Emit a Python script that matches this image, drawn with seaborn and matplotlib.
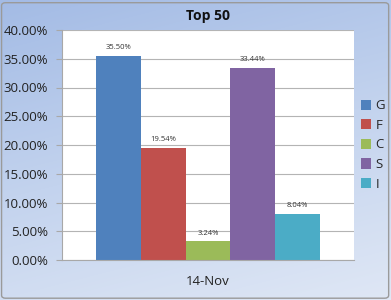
import numpy as np
import pandas as pd
import matplotlib
matplotlib.use("Agg")
import matplotlib.pyplot as plt
import seaborn as sns
from matplotlib.colors import LinearSegmentedColormap
from matplotlib.patches import FancyBboxPatch

categories = ["G", "F", "C", "S", "I"]
values = [35.50, 19.54, 3.24, 33.44, 8.04]
group = ["14-Nov"] * 5
colors = ["#4f81bd", "#c0504d", "#9bbb59", "#8064a2", "#4bacc6"]
yticks = [0, 5, 10, 15, 20, 25, 30, 35, 40]

df = pd.DataFrame({"date": group, "cat": categories, "val": values})

sns.set_theme(style="white")
plt.rcParams['font.family'] = ['Open Sans', 'DejaVu Sans']

fig = plt.figure(figsize=(3.91, 3.00), dpi=100)

# background gradient
bg = fig.add_axes([0, 0, 1, 1], zorder=-10)
ny, nx = 300, 391
yy, xx = np.mgrid[0:1:ny * 1j, 0:1:nx * 1j]
t = np.clip(0.75 * yy + 0.25 * xx, 0, 1)
cmap = LinearSegmentedColormap.from_list("bgc", ["#a3bbe5", "#c3d3ee", "#dfe7f5"])
bg.imshow(t, cmap=cmap, aspect="auto", extent=[0, 1, 0, 1], origin="upper")
bg.add_patch(FancyBboxPatch((0.004, 0.006), 0.99, 0.985, boxstyle="round,pad=0,rounding_size=0.01",
                            fill=False, edgecolor="#9a9a9a", lw=1.0, transform=bg.transAxes))
bg.set_xlim(0, 1); bg.set_ylim(0, 1)
bg.axis("off")

ax = fig.add_axes([62 / 391, 40 / 300, 292 / 391, 230 / 300])
ax.set_facecolor("white")
sns.barplot(data=df, x="date", y="val", hue="cat", hue_order=categories,
            palette=colors, width=0.767, saturation=1, ax=ax, legend=True,
            edgecolor="none", linewidth=0)

for c, cont in enumerate(ax.containers):
    for bar in cont:
        h = bar.get_height()
        ax.text(bar.get_x() + bar.get_width() / 2, h + 0.8, f"{h:.2f}%",
                ha="center", va="bottom", fontsize=5.5, color="#333333")

ax.set_ylim(0, 40)
ax.set_xlim(-0.5, 0.5)
ax.set_yticks(yticks)
ax.set_yticklabels([f"{v:.2f}%" for v in yticks], fontsize=9.5, color="#222222")
ax.set_xticks([0])
ax.set_xticklabels(["14-Nov"], fontsize=9.5, color="#222222")
ax.set_xlabel("")
ax.set_ylabel("")
ax.yaxis.grid(True, color="#b4b4b4", lw=0.8)
ax.set_axisbelow(True)
for s in ["top", "right"]:
    ax.spines[s].set_visible(False)
for s in ["left", "bottom"]:
    ax.spines[s].set_color("#a8a8a8")
    ax.spines[s].set_linewidth(0.8)
ax.tick_params(axis="y", length=4, color="#a8a8a8", width=0.8, left=True, pad=6)
ax.tick_params(axis="x", length=0, pad=11)

ax.set_title("Top 50", fontsize=10, fontweight="bold", color="#111111", pad=7)

leg = ax.legend(loc="center left", bbox_to_anchor=(1.005, 0.50), frameon=False,
                fontsize=9.5, handlelength=0.8, handleheight=0.8, handletextpad=0.3,
                labelspacing=0.5, borderaxespad=0)

fig.savefig("out.png", dpi=100)
